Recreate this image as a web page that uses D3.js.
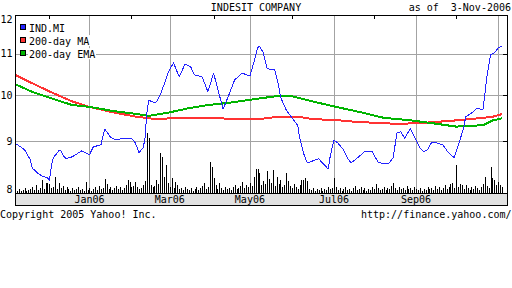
<!DOCTYPE html>
<html><head><meta charset="utf-8">
<script src="https://cdn.jsdelivr.net/npm/d3@7"></script>
<style>
html,body{margin:0;padding:0;background:#fff;}
svg{display:block;font-family:"DejaVu Sans Mono",monospace;font-size:10px;}
</style></head><body>
<svg id="chart" width="512" height="288"></svg>
<script>
// ---------- data ----------
const chartTitle = "INDESIT COMPANY";
const asOfText = "as of  3-Nov-2006";
const copyrightText = "Copyright 2005 Yahoo! Inc.";
const sourceText = "http://finance.yahoo.com/";
const seriesNames = ["IND.MI", "200-day MA", "200-day EMA"];
const seriesColors = ["#2222ff", "#ff3333", "#00b400"];
const firstSession = "2005-11-07";
const lastSession = "2006-11-03";
const holidays = ["2005-12-26", "2006-04-14", "2006-05-01", "2006-08-15"];
const yTicks = [8, 9, 10, 11, 12];
const monthLabels = ["Jan06", "Mar06", "May06", "Jul06", "Sep06"];

// closing price (EUR) at trading-session number
const priceSession = [0,3,5,8,9,12,14,17,18,19,20,23,24,26,27,30,35,38,39,41,45,47,50,52,55,61,63,64,65,67,68,69,70,71,73,74,76,79,80,83,86,89,92,94,98,101,104,106,109,112,115,119,123,125,127,128,130,132,134,136,138,139,142,145,148,149,151,153,156,159,161,164,165,167,169,172,174,176,180,183,187,190,193,196,198,200,202,204,207,208,212,214,216,218,221,224,227,230,233,235,236,239,242,245,246,247,249,251,253,255];
const priceValue = [8.96,8.89,8.83,8.63,8.47,8.37,8.32,8.28,8.24,8.49,8.67,8.81,8.81,8.67,8.66,8.69,8.81,8.75,8.73,8.89,8.93,9.26,9.09,9.05,9.05,9.07,8.97,8.87,8.77,8.87,9.03,9.60,9.89,9.87,9.83,9.85,10.01,10.36,10.52,10.77,10.43,10.74,10.67,10.48,10.43,10.08,10.52,10.17,9.69,10.01,10.36,10.52,10.45,10.77,11.14,11.19,11.02,10.64,10.60,10.60,10.24,9.96,9.67,9.50,9.34,9.09,8.77,8.57,8.61,8.65,8.57,8.45,8.69,9.03,8.97,8.83,8.67,8.57,8.69,8.79,8.79,8.59,8.55,8.57,8.67,9.18,9.20,9.07,9.26,9.18,8.87,8.79,8.83,8.97,8.97,8.93,8.77,8.67,9.03,9.30,9.52,9.60,9.71,9.67,10.01,10.40,10.97,11.02,11.14,11.19];

// 200-day moving average
const maSession = [0,9,19,30,39,51,64,74,86,101,128,137,150,156,168,176,193,202,214,230,243,250,255];
const maValue = [10.48,10.28,10.07,9.86,9.74,9.62,9.52,9.47,9.50,9.49,9.47,9.52,9.51,9.47,9.45,9.42,9.38,9.37,9.39,9.44,9.49,9.52,9.58];

// 200-day exponential moving average
const emaSession = [0,9,19,30,39,51,64,70,80,91,101,112,128,139,145,153,162,168,180,193,208,219,231,245,250,255];
const emaValue = [10.26,10.08,9.93,9.78,9.74,9.65,9.58,9.54,9.61,9.71,9.78,9.83,9.93,9.99,9.98,9.89,9.80,9.74,9.63,9.50,9.44,9.38,9.31,9.34,9.44,9.49];

// daily volume (thousand shares), one per trading session
const volume = [75,50,100,50,75,125,50,75,100,150,75,
200,75,125,325,100,250,250,225,125,150,
400,100,250,125,175,75,150,100,50,125,
75,100,150,75,100,50,275,75,125,50,
100,150,75,175,100,125,350,225,100,150,
75,125,175,100,150,75,125,200,325,275,
150,175,275,150,100,125,200,300,1500,1375,
200,150,175,325,225,1000,900,400,700,250,
150,375,125,275,200,100,125,75,150,100,
75,125,50,100,150,75,125,175,250,100,
150,775,650,375,200,100,250,125,75,150,
100,125,75,150,200,100,125,175,275,125,
200,150,250,175,400,600,600,500,200,300,
225,550,350,250,575,175,400,225,325,150,
200,500,300,175,125,225,150,100,200,325,
325,375,300,100,75,125,50,100,75,125,
50,100,75,150,100,125,375,150,75,125,
50,100,150,75,100,50,125,175,75,100,
150,75,125,50,100,75,150,100,225,125,
75,100,150,75,125,100,175,250,125,75,
150,100,125,75,175,100,125,75,150,100,
75,125,50,100,75,150,100,125,75,175,
100,150,75,125,200,100,150,225,250,125,
700,150,225,200,100,200,125,75,150,100,
175,125,75,150,225,400,175,125,650,375,
325,200,275,200,150];

// ---------- build ----------
const parse = d3.utcParse("%Y-%m-%d");
const fmtKey = d3.utcFormat("%Y-%m-%d");
const hol = new Set(holidays);
const sessions = d3.utcDay.range(parse(firstSession), d3.utcDay.offset(parse(lastSession), 1))
  .filter(d => d.getUTCDay() !== 0 && d.getUTCDay() !== 6 && !hol.has(fmtKey(d)));

const L = 15, R = 507, T = 15, B = 193;
const x = d3.scaleLinear().domain([0, sessions.length - 1]).range([L, 502]);
const y = d3.scaleLog().domain([8, 12]).range([B, 15.5]);
const yVol = d3.scaleLinear().domain([0, 1500]).range([B, B - 60]);

const svg = d3.select("#chart");
const gridColor = "#a3a3a3";

// month boundaries: first session of each month
const monthFmt = d3.utcFormat("%b%y");
const firstOfMonth = [];
sessions.forEach((d, i) => {
  if (i > 0 && d.getUTCMonth() !== sessions[i - 1].getUTCMonth()) firstOfMonth.push({ i, d });
});
const gridMonths = firstOfMonth.filter(m => m.d.getUTCMonth() % 2 === 0);
const tickMonths = firstOfMonth.filter(m => m.d.getUTCMonth() % 2 === 1);

const crisp = v => Math.round(v) + 0.5;

// bottom date band
svg.append("rect").attr("x", L + 0.5).attr("y", B + 0.5).attr("width", R - L).attr("height", 11.5)
  .attr("fill", "#e1e1e1").attr("stroke", "#000").attr("shape-rendering", "crispEdges");

// horizontal grid
svg.append("g").selectAll("line").data(yTicks.filter(v => v > 8 && v < 12)).join("line")
  .attr("x1", L).attr("x2", R).attr("y1", d => crisp(y(d))).attr("y2", d => crisp(y(d)))
  .attr("stroke", gridColor).attr("shape-rendering", "crispEdges");

// vertical grid
svg.append("g").selectAll("line").data(gridMonths).join("line")
  .attr("x1", d => crisp(x(d.i))).attr("x2", d => crisp(x(d.i))).attr("y1", T).attr("y2", B)
  .attr("stroke", gridColor).attr("shape-rendering", "crispEdges");

// top ticks at the other months
svg.append("g").selectAll("line").data(tickMonths).join("line")
  .attr("x1", d => crisp(x(d.i))).attr("x2", d => crisp(x(d.i))).attr("y1", T).attr("y2", T + 4)
  .attr("stroke", "#000").attr("shape-rendering", "crispEdges");

// right ticks
svg.append("g").selectAll("line").data(yTicks.filter(v => v > 8 && v < 12)).join("line")
  .attr("x1", R - 4).attr("x2", R).attr("y1", d => crisp(y(d))).attr("y2", d => crisp(y(d)))
  .attr("stroke", "#000").attr("shape-rendering", "crispEdges");

// volume bars
svg.append("g").selectAll("line").data(volume).join("line")
  .attr("x1", (d, i) => crisp(x(i))).attr("x2", (d, i) => crisp(x(i)))
  .attr("y1", B).attr("y2", d => Math.round(yVol(d)))
  .attr("stroke", "#000").attr("shape-rendering", "crispEdges");

// lines
const line = d3.line().x(d => x(d[0])).y(d => y(d[1]));
const series = [
  { s: maSession, v: maValue, c: seriesColors[1], w: 2 },
  { s: emaSession, v: emaValue, c: seriesColors[2], w: 2 },
  { s: priceSession, v: priceValue, c: seriesColors[0], w: 1 }
];
series.forEach(sr => {
  svg.append("path").datum(sr.s.map((s, k) => [s, sr.v[k]]))
    .attr("d", line).attr("fill", "none").attr("stroke", sr.c).attr("stroke-width", sr.w)
    .attr("stroke-linejoin", "round").attr("shape-rendering", "crispEdges");
});

// plot frame
svg.append("rect").attr("x", L + 0.5).attr("y", T + 0.5).attr("width", R - L).attr("height", B - T)
  .attr("fill", "none").attr("stroke", "#000").attr("shape-rendering", "crispEdges");

// y labels
svg.append("g").selectAll("text").data(yTicks).join("text")
  .attr("x", 12.5).attr("y", d => Math.max(23, Math.min(192.5, y(d) + 3.6)))
  .attr("text-anchor", "end").attr("fill", "#000").text(d => d);

// month labels in band
svg.append("g").selectAll("text").data(gridMonths.filter(m => monthLabels.includes(monthFmt(m.d)))).join("text")
  .attr("x", d => x(d.i)).attr("y", 203).attr("text-anchor", "middle").attr("fill", "#000")
  .text(d => monthFmt(d.d));

// legend
const lg = svg.append("g");
seriesNames.forEach((n, k) => {
  const yy = 24 + k * 13.1;
  lg.append("rect").attr("x", 28).attr("y", yy - 2).attr("width", n.length * 6 + 2).attr("height", 11)
    .attr("fill", "#fff");
  lg.append("rect").attr("x", 20.5).attr("y", Math.round(yy) + 0.5).attr("width", 5).attr("height", 5)
    .attr("fill", seriesColors[k]).attr("stroke", "#000").attr("stroke-width", 1)
    .attr("shape-rendering", "crispEdges");
  lg.append("text").attr("x", 29).attr("y", yy + 7.6).attr("fill", "#000").text(n);
});

// title & footer
svg.append("text").attr("x", 256).attr("y", 11).attr("text-anchor", "middle").text(chartTitle);
svg.append("text").attr("x", 511).attr("y", 11).attr("text-anchor", "end").attr("xml:space", "preserve")
  .style("white-space", "pre").text(asOfText);
svg.append("text").attr("x", 0).attr("y", 217.5).text(copyrightText);
svg.append("text").attr("x", 511.5).attr("y", 217.5).attr("text-anchor", "end").text(sourceText);
</script>
</body></html>
